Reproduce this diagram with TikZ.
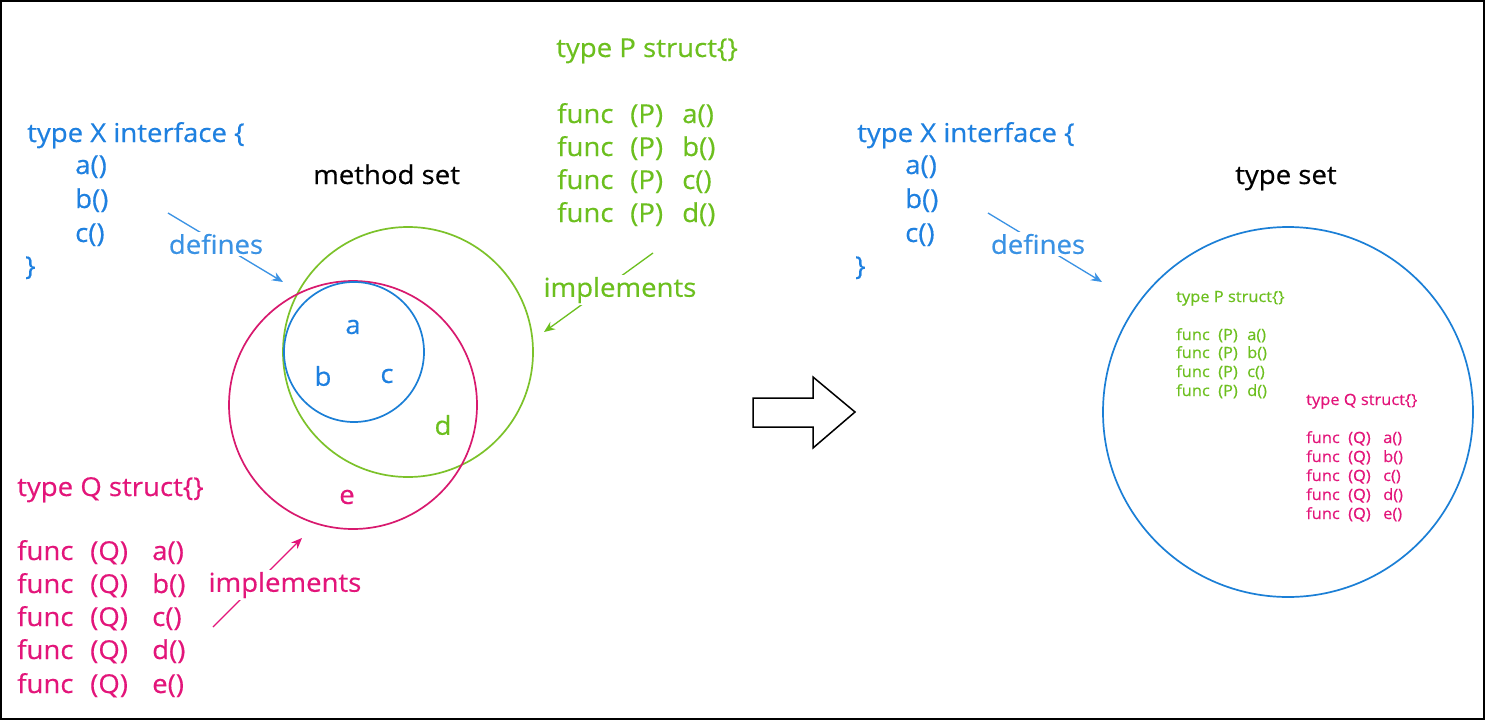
\documentclass[tikz,border=0pt]{standalone}
\usepackage{fontspec}
\setmainfont{Open Sans}[FakeStretch=1.06,FakeBold=0.4]
\usetikzlibrary{arrows.meta}
\definecolor{cblue}{HTML}{1E80E0}
\definecolor{clblue}{HTML}{3A92E4}
\definecolor{cgreen}{HTML}{6CBF1E}
\definecolor{cpink}{HTML}{E3157A}
\definecolor{cgc}{HTML}{7CC22A}
\definecolor{cpc}{HTML}{D8196E}
\definecolor{cbc}{HTML}{1B7FD6}
\newcommand{\bigf}{\fontsize{26}{30}\selectfont}
\newcommand{\smf}{\fontsize{15.5}{18}\selectfont}
\newcommand{\pl}[1]{\makebox[73pt][l]{func}\makebox[52pt][l]{(P)}#1}
\newcommand{\ql}[1]{\makebox[73pt][l]{func}\makebox[62pt][l]{(Q)}#1}
\newcommand{\spl}[1]{\makebox[42pt][l]{func}\makebox[29pt][l]{(P)}#1}
\newcommand{\sql}[1]{\makebox[42pt][l]{func}\makebox[35pt][l]{(Q)}#1}
\tikzset{
  txt/.style={anchor=base west, inner sep=0pt, font=\bigf},
  stxt/.style={anchor=base west, inner sep=0pt, font=\smf},
  lbl/.style={inner sep=2pt, fill=white, font=\bigf},
  conn/.style={line width=1.3pt, -{Stealth[length=11pt,width=9pt]}},
  circ/.style={line width=1.7pt},
}
\begin{document}
\begin{tikzpicture}[x=1pt,y=-1pt]
\useasboundingbox (0,0) rectangle (1485,720);
\draw[line width=1.6pt, fill=white] (0.8,0.8) rectangle (1484.2,719.2);

% left interface
\node[txt, text=cblue] (lx1) at (27,142) {type X interface \{};
\node[txt, text=cblue] (lx2) at (75,174) {a()};
\node[txt, text=cblue] (lx3) at (75,208) {b()};
\node[txt, text=cblue] (lx4) at (75,242) {c()};
\node[txt, text=cblue] (lx5) at (25,275) {\}};
\node[txt] (ms) at (313,184) {method set};

% circles
\draw[circ, cgc] (408,352) circle (125);
\draw[circ, cpc] (353,405) circle (124);
\draw[circ, cbc] (354,352) circle (70);
\node[font=\bigf, text=cblue] (va) at (353,327) {a};
\node[font=\bigf, text=cblue] (vb) at (323,376) {b};
\node[font=\bigf, text=cblue] (vc) at (387,376) {c};
\node[font=\bigf, text=cgreen] (vd) at (443,425) {d};
\node[font=\bigf, text=cpink] (ve) at (347,497) {e};

% left defines
\coordinate (ld1) at (168,213);
\coordinate (ld2) at (283,282);
\draw[conn, clblue] (ld1) -- (ld2);
\node[lbl, text=clblue] (ldef) at (216,244) {defines};

% P block
\node[txt, text=cgreen] (p0) at (556,57) {type P struct\{\}};
\node[txt, text=cgreen] (p1) at (557,123) {\pl{a()}};
\node[txt, text=cgreen] (p2) at (557,156) {\pl{b()}};
\node[txt, text=cgreen] (p3) at (557,189) {\pl{c()}};
\node[txt, text=cgreen] (p4) at (557,222) {\pl{d()}};
\coordinate (pi1) at (653,253);
\coordinate (pi2) at (544,332);
\draw[conn, cgreen] (pi1) -- (pi2);
\node[lbl, text=cgreen] (pimp) at (620,290) {implements};

% Q block
\node[txt, text=cpink] (q0) at (17,496) {type Q struct\{\}};
\node[txt, text=cpink] (q1) at (17,560) {\ql{a()}};
\node[txt, text=cpink] (q2) at (17,593) {\ql{b()}};
\node[txt, text=cpink] (q3) at (17,626) {\ql{c()}};
\node[txt, text=cpink] (q4) at (17,659) {\ql{d()}};
\node[txt, text=cpink] (q5) at (17,693) {\ql{e()}};
\coordinate (qi1) at (213,627);
\coordinate (qi2) at (302,538);
\draw[conn, cpink] (qi1) -- (qi2);
\node[lbl, text=cpink] (qimp) at (285,585) {implements};

% big hollow arrow
\draw[line width=1.5pt, line join=miter] (753,398) -- (813,398) -- (813,377) -- (855,412) -- (813,448) -- (813,427) -- (753,427) -- cycle;

% right interface
\node[txt, text=cblue] (rx1) at (857,142) {type X interface \{};
\node[txt, text=cblue] (rx2) at (905,174) {a()};
\node[txt, text=cblue] (rx3) at (905,208) {b()};
\node[txt, text=cblue] (rx4) at (905,242) {c()};
\node[txt, text=cblue] (rx5) at (855,275) {\}};
\node[txt] (ts) at (1235,184) {type set};
\coordinate (rd1) at (988,213);
\coordinate (rd2) at (1102,282);
\draw[conn, clblue] (rd1) -- (rd2);
\node[lbl, text=clblue] (rdef) at (1038,244) {defines};

\draw[circ, cbc] (1288,412) circle (185);

\node[stxt, text=cgreen] (sp0) at (1176,302) {type P struct\{\}};
\node[stxt, text=cgreen] (sp1) at (1176,340) {\spl{a()}};
\node[stxt, text=cgreen] (sp2) at (1176,358) {\spl{b()}};
\node[stxt, text=cgreen] (sp3) at (1176,377) {\spl{c()}};
\node[stxt, text=cgreen] (sp4) at (1176,396) {\spl{d()}};

\node[stxt, text=cpink] (sq0) at (1306,405) {type Q struct\{\}};
\node[stxt, text=cpink] (sq1) at (1306,443) {\sql{a()}};
\node[stxt, text=cpink] (sq2) at (1306,462) {\sql{b()}};
\node[stxt, text=cpink] (sq3) at (1306,481) {\sql{c()}};
\node[stxt, text=cpink] (sq4) at (1306,500) {\sql{d()}};
\node[stxt, text=cpink] (sq5) at (1306,519) {\sql{e()}};
\end{tikzpicture}
\end{document}
